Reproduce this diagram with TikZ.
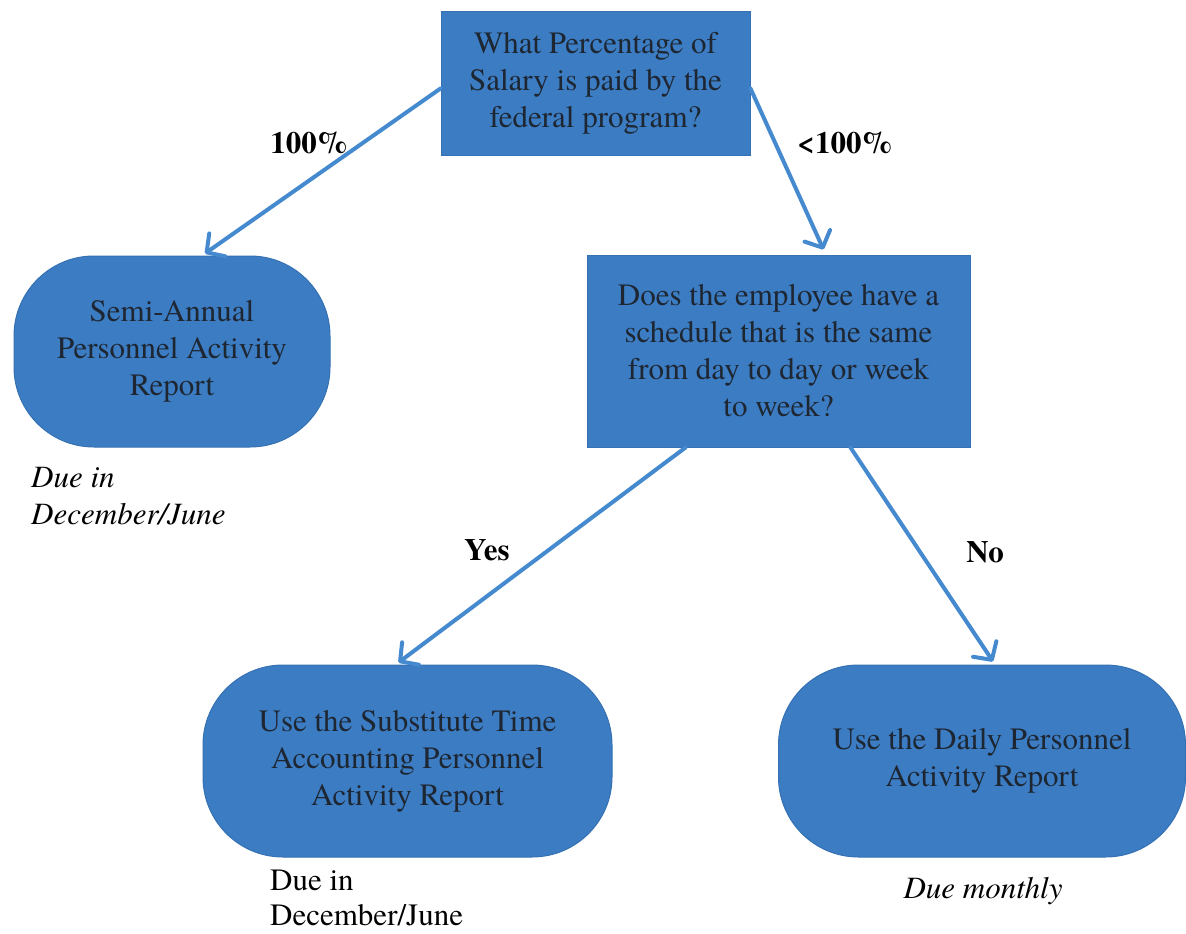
\documentclass[tikz,border=0pt]{standalone}
\usepackage{fontspec}
\setmainfont{texgyretermes}[Extension=.otf,UprightFont=*-regular,BoldFont=*-bold,ItalicFont=*-italic,BoldItalicFont=*-bolditalic]
\usetikzlibrary{arrows.meta}
\definecolor{boxblue}{HTML}{3B7CC2}
\definecolor{boxedge}{HTML}{3571B3}
\definecolor{arrowblue}{HTML}{4589CF}
\definecolor{boxtext}{HTML}{1E2632}
\begin{document}
\begin{tikzpicture}[x=1pt,y=-1pt,
  qbox/.style={rectangle,fill=boxblue,draw=boxedge,line width=1pt,inner sep=0pt,
    text=boxtext,align=center,font=\fontsize{31}{37}\selectfont},
  rbox/.style={qbox,rounded corners=80pt},
  conn/.style={draw=arrowblue,line width=4pt,line cap=round,
    -{Straight Barb[length=13pt,width=28pt,round]}},
  lbl/.style={font=\fontsize{31}{37}\selectfont\bfseries,inner sep=0pt},
  note/.style={font=\fontsize{31}{37}\selectfont,inner sep=0pt,align=left}]
\useasboundingbox (0,0) rectangle (1186,934);
\node[qbox,minimum width=309pt,minimum height=143pt] (q1) at (595.5,83.5)
  {What Percentage of\\Salary is paid by the\\federal program?};
\node[qbox,minimum width=383pt,minimum height=192pt] (q2) at (778.5,351)
  {Does the employee have a\\schedule that is the same\\from day to day or week\\to week?};
\node[rbox,minimum width=316pt,minimum height=191pt] (r1) at (172,351.5)
  {Semi-Annual\\Personnel Activity\\Report};
\node[rbox,minimum width=409pt,minimum height=192pt] (r2) at (407.5,761)
  {Use the Substitute Time\\Accounting Personnel\\Activity Report};
\node[rbox,minimum width=407pt,minimum height=192pt] (r3) at (982,761)
  {Use the Daily Personnel\\Activity Report};
\draw[conn] ([yshift=-5pt]q1.west) -- ([xshift=33pt,yshift=2pt]r1.north);
\draw[conn] ([yshift=-5pt]q1.east) -- ([xshift=45pt,yshift=5pt]q2.north);
\draw[conn] ([xshift=-93pt]q2.south) -- ([xshift=-9pt,yshift=2pt]r2.north);
\draw[conn] ([xshift=72pt]q2.south) -- ([xshift=11pt,yshift=3pt]r3.north);
\node[lbl] (l1) at (309,143) {100\%};
\node[lbl] (l2) at (845,143) {<100\%};
\node[lbl] (l3) at (487,550) {Yes};
\node[lbl] (l4) at (985,552) {No};
\node[note,anchor=north west,font=\fontsize{31}{37}\selectfont\itshape] (n1) at (31,467) {Due in\\December/June};
\node[note,anchor=north west,font=\fontsize{31}{35}\selectfont] (n2) at (270,870) {Due in\\December/June};
\node[note,anchor=north,font=\fontsize{31}{37}\selectfont\itshape] (n3) at (983,877) {Due monthly};
\end{tikzpicture}
\end{document}
